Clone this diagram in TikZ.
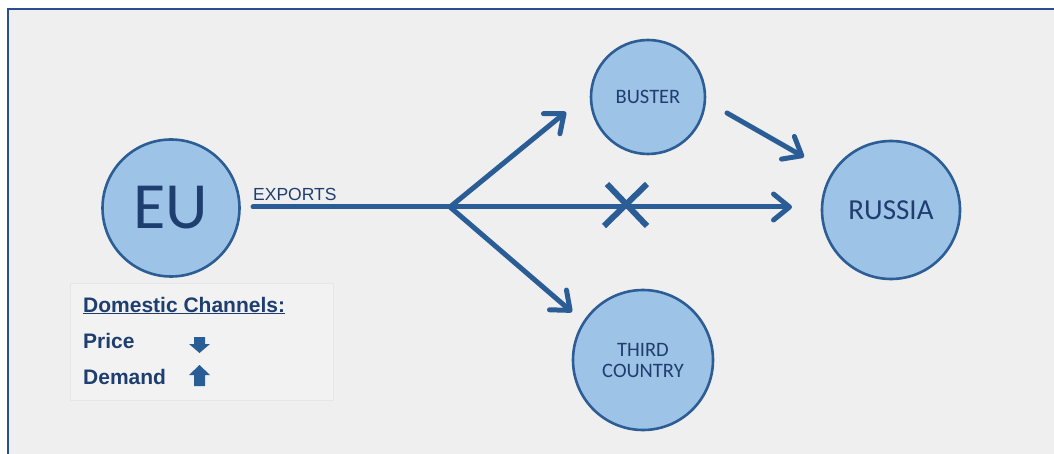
\documentclass[tikz,border=0pt]{standalone}
\usepackage{fontspec}
\setmainfont{Liberation Sans}
\newfontfamily\carl{Carlito}
\usetikzlibrary{arrows.meta}
\definecolor{bg}{HTML}{EFEFEF}
\definecolor{frame}{HTML}{2B4E8C}
\definecolor{lineblue}{HTML}{2A5C96}
\definecolor{circfill}{HTML}{9DC3E6}
\definecolor{circedge}{HTML}{2C5D94}
\definecolor{txtblue}{HTML}{1F3E70}
\definecolor{legbg}{HTML}{F2F2F2}
\definecolor{legedge}{HTML}{E6E6E6}
\tikzset{
  country/.style={circle, fill=circfill, draw=circedge, line width=2.6pt, text=txtblue, inner sep=0pt, font=\carl, align=center},
  flow/.style={draw=lineblue, line width=5pt, line cap=round, line join=round},
  flowarrow/.style={flow, -{Straight Barb[length=16pt,width=26pt,line cap=round,line join=round]}},
  legtext/.style={anchor=base west, text=txtblue, font=\bfseries\fontsize{21}{24}\selectfont, inner sep=0pt},
}
\begin{document}
\begin{tikzpicture}[x=1pt,y=-1pt]
\useasboundingbox (0,0) rectangle (1054,454);
\fill[white] (0,0) rectangle (1054,454);
\fill[bg] (8,9) rectangle (1054,454);
\draw[frame, line width=1.5pt] (8,454) -- (8,9) -- (1054,9);

% legend box
\node[draw=legedge, fill=legbg, line width=0.6pt, minimum width=263pt, minimum height=117pt, inner sep=0pt, anchor=north west] (legend) at (70,283) {};
\node[legtext] (dom) at (83,312) {\underline{Domestic Channels:}};
\node[legtext] (price) at (83,348) {Price};
\node[legtext] (demand) at (83,384) {Demand};
% legend arrows
\fill[lineblue] (194,337) -- (205,337) -- (205,344) -- (210,344) -- (199.5,353) -- (189,344) -- (194,344) -- cycle;
\fill[lineblue] (194,386) -- (205,386) -- (205,375) -- (210,375) -- (199.5,365) -- (189,375) -- (194,375) -- cycle;

% circles
\node[country, minimum size=137pt, font=\carl\fontsize{66}{66}\selectfont] (eu) at (171,208) {EU};
\node[country, minimum size=114pt, font=\carl\fontsize{20.5}{22}\selectfont] (buster) at (648,97) {BUSTER};
\node[country, minimum size=138pt, font=\carl\fontsize{29}{30}\selectfont] (russia) at (891,210) {RUSSIA};
\node[country, minimum size=140pt, font=\carl\fontsize{20.5}{21}\selectfont] (third) at (643,360) {THIRD\\COUNTRY};

% flows
\coordinate (start) at (253,207);
\coordinate (branch) at (450,207);
\coordinate (mainend) at (792,207);
\coordinate (upend) at (566,112);
\coordinate (downend) at (572,312);
\coordinate (bstart) at (727,113);
\coordinate (bend) at (804,157);
\draw[flow] (start) -- (branch);
\draw[flowarrow] (branch) -- (mainend);
\draw[flowarrow] (branch) -- (upend);
\draw[flowarrow] (branch) -- (downend);
\draw[flowarrow] (bstart) -- (bend);

\node[anchor=base west, inner sep=0pt, text=txtblue, font=\fontsize{17.5}{18}\selectfont] (exports) at (253,201) {EXPORTS};

% cross
\coordinate (xa) at (607,184);
\coordinate (xb) at (647,226);
\coordinate (xc) at (647,184);
\coordinate (xd) at (604,226);
\draw[draw=lineblue, line width=6pt] (xa) -- (xb);
\draw[draw=lineblue, line width=6pt] (xc) -- (xd);
\end{tikzpicture}
\end{document}
